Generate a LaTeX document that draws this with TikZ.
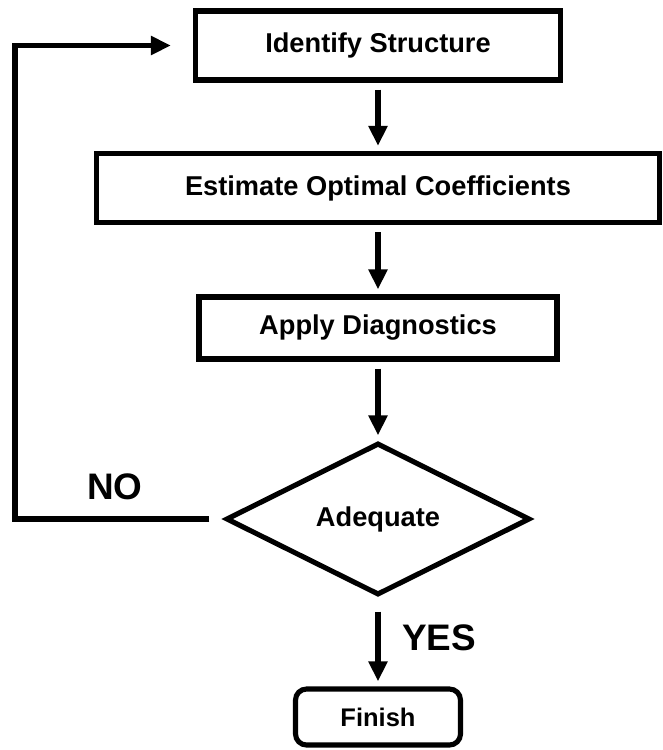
\documentclass[tikz,border=0pt]{standalone}
\usepackage{fontspec}
\setmainfont{Liberation Sans}
\usetikzlibrary{shapes.geometric,arrows.meta}

\begin{document}
\begin{tikzpicture}[
    node distance=2.8cm,
    block/.style={rectangle, draw, line width=2.9pt, minimum height=1.38cm, font=\fontsize{15.5}{18}\selectfont\bfseries},
    decision/.style={diamond, draw, line width=2.9pt, aspect=2, minimum width=6.08cm, minimum height=3.04cm, inner sep=0pt, font=\fontsize{15.5}{18}\selectfont\bfseries},
    tag/.style={font=\fontsize{21}{24}\selectfont\bfseries},
    arrow/.style={-{Triangle[length=0.4cm,width=0.36cm]}, line width=2.9pt, shorten <=0.14cm, shorten >=0.1cm}
]
\useasboundingbox (0,-15) rectangle (13.26,0);

% Identify
\node[block, minimum width=7.3cm] (ident) at (7.56,-0.91) {Identify Structure};

% Estimate
\node[block, minimum width=11.26cm, below of=ident, yshift=-0.05cm] (estim) {Estimate Optimal Coefficients};

% Diagnostics
\node[block, minimum width=7.16cm, minimum height=1.24cm, below of=estim] (diag) {Apply Diagnostics};

% Decision
\node[decision, below of=diag, yshift=-1.02cm] (adeq) {Adequate};
\node[tag, left of=adeq, xshift=-2.46cm, yshift=0.64cm] (no) {NO};

% Finish
\node[block, rounded corners=0.22cm, minimum width=3.3cm, minimum height=1.12cm, font=\fontsize{14.5}{17}\selectfont\bfseries, below of=adeq, yshift=-1.16cm] (finish) {Finish};
\node[tag, below of=adeq, xshift=1.22cm, yshift=0.42cm] (yes) {YES};

% Arrows
\coordinate (turn) at (0.3,0);
\draw[arrow] (ident) -- (estim);
\draw[arrow] (estim) -- (diag);
\draw[arrow] (diag) -- (adeq);
\draw[arrow, shorten <=0.28cm] (adeq) -- (finish);
\draw[arrow, shorten <=0.28cm, shorten >=0.44cm] (adeq.west) -- (adeq.west -| turn) |- (ident.west);

\end{tikzpicture}
\end{document}
